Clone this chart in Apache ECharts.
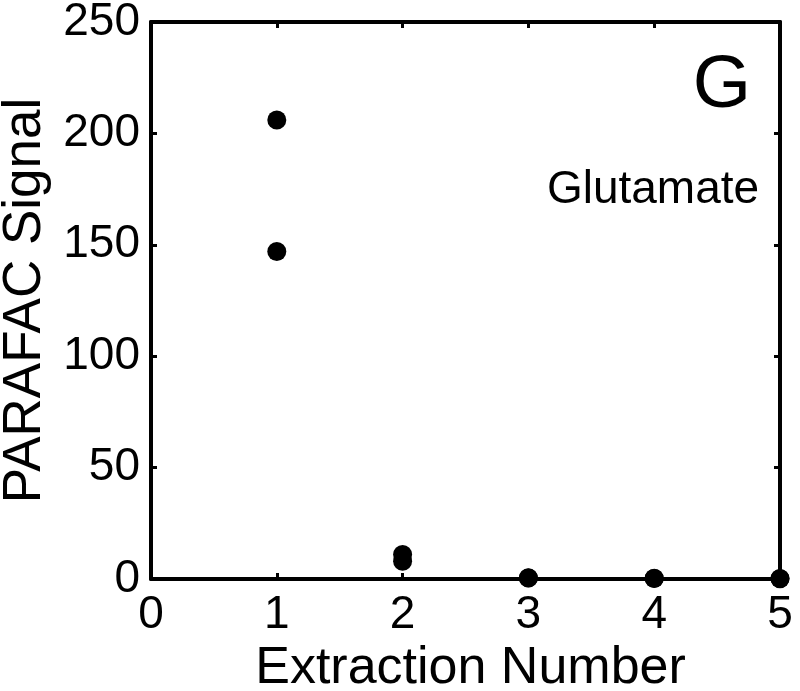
<!DOCTYPE html>
<html>
<head>
<meta charset="utf-8">
<script src="https://cdn.jsdelivr.net/npm/echarts@6/dist/echarts.min.js"></script>
<style>
	html, body { margin: 0; padding: 0; background: #fff; }
	#main { width: 800px; height: 691px; }
</style>
</head>
<body>
<div id="main"></div>
<script type="text/javascript">
	// 数据：提取次数 / PARAFAC 信号
	var extraction = [1, 1, 2, 2, 3, 3, 4, 4, 5, 5];
	var signal = [206, 147, 11, 8, 0.6, 0.4, 0.3, 0.2, 0.2, 0.1];
	var xTicks = [0, 1, 2, 3, 4, 5];
	var yTicks = [0, 50, 100, 150, 200, 250];

	var points = extraction.map(function (x, i) { return [x, signal[i]]; });

	var font = '"Liberation Sans", Arial, sans-serif';
	var lineStyle = { color: '#000', width: 4 };
	var tickStyle = { color: '#000', width: 3 };

	var myChart = echarts.init(document.getElementById('main'));

	myChart.setOption({
		backgroundColor: '#fff',
		animation: false,
		grid: { left: 151, right: 20, top: 22, bottom: 112, outerBoundsMode: 'none', containLabel: false },
		xAxis: [{
			type: 'value',
			min: xTicks[0],
			max: xTicks[xTicks.length - 1],
			interval: 1,
			name: 'Extraction Number',
			nameLocation: 'middle',
			nameGap: 61,
			nameTextStyle: { fontFamily: font, fontSize: 52, color: '#000', padding: [0, 0, 0, 10] },
			axisLine: { show: true, onZero: false, lineStyle: lineStyle },
			axisTick: { show: true, inside: true, length: 6, lineStyle: tickStyle },
			axisLabel: { margin: 13, fontFamily: font, fontSize: 46, color: '#000' },
			splitLine: { show: false }
		}, {
			type: 'value',
			position: 'top',
			min: xTicks[0],
			max: xTicks[xTicks.length - 1],
			interval: 1,
			axisLine: { show: true, onZero: false, lineStyle: lineStyle },
			axisTick: { show: true, inside: true, length: 6, lineStyle: tickStyle },
			axisLabel: { show: false },
			splitLine: { show: false }
		}],
		yAxis: [{
			type: 'value',
			min: yTicks[0],
			max: yTicks[yTicks.length - 1],
			interval: 50,
			name: 'PARAFAC Signal',
			nameLocation: 'middle',
			nameRotate: 90,
			nameGap: 94,
			nameTextStyle: { fontFamily: font, fontSize: 53, color: '#000' },
			axisLine: { show: true, onZero: false, lineStyle: lineStyle },
			axisTick: { show: true, inside: true, length: 6, lineStyle: tickStyle },
			axisLabel: { margin: 11, fontFamily: font, fontSize: 46, color: '#000' },
			splitLine: { show: false }
		}, {
			type: 'value',
			position: 'right',
			min: yTicks[0],
			max: yTicks[yTicks.length - 1],
			interval: 50,
			axisLine: { show: true, onZero: false, lineStyle: lineStyle },
			axisTick: { show: true, inside: true, length: 6, lineStyle: tickStyle },
			axisLabel: { show: false },
			splitLine: { show: false }
		}],
		graphic: [{
			type: 'text',
			style: {
				x: 722,
				y: 86,
				text: 'G',
				fontFamily: font,
				fontSize: 75,
				fill: '#000',
				textAlign: 'center',
				textVerticalAlign: 'middle'
			}
		}, {
			type: 'text',
			style: {
				x: 653,
				y: 190,
				text: 'Glutamate',
				fontFamily: font,
				fontSize: 46,
				fill: '#000',
				textAlign: 'center',
				textVerticalAlign: 'middle'
			}
		}],
		series: [{
			name: 'Glutamate',
			type: 'scatter',
			xAxisIndex: 0,
			yAxisIndex: 0,
			symbolSize: 19,
			clip: false,
			itemStyle: { color: '#000', opacity: 1 },
			data: points
		}]
	});
</script>
</body>
</html>
